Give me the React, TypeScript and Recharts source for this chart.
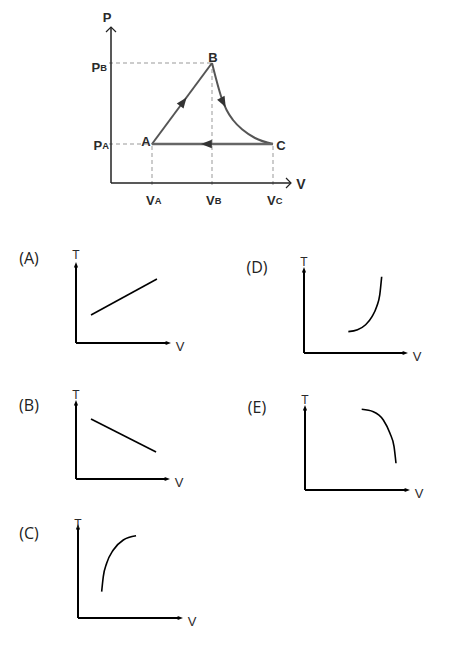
import { ComposedChart, Line, XAxis, YAxis, ReferenceLine, ReferenceDot } from 'recharts'

// P-V cycle (values in arbitrary units)
const VA = 2.05
const VB = 5.05
const VC = 8.1
const PA = 1.95
const PB = 6
const V_MAX = 9
const P_MAX = 7.8

const lineAB = [{ v: VA, p: PA }, { v: VB, p: PB }]
const curveBC = [
  { v: VB, p: PB }, { v: 5.29, p: 5.07 }, { v: 5.53, p: 4.25 }, { v: 5.78, p: 3.65 },
  { v: 6.1, p: 3.15 }, { v: 6.6, p: 2.65 }, { v: 7.2, p: 2.25 }, { v: VC, p: PA },
]
const lineCA = [{ v: VC, p: PA }, { v: VA, p: PA }]
const vTicks = [{ v: VA, sub: 'A' }, { v: VB, sub: 'B' }, { v: VC, sub: 'C' }]
const pTicks = [{ p: PA, sub: 'A', dx: -2, dy: 1 }, { p: PB, sub: 'B', dx: -4, dy: 4 }]
const points = [
  { name: 'A', v: VA, p: PA, dx: -6, dy: -3 },
  { name: 'B', v: VB, p: PB, dx: 1, dy: -6 },
  { name: 'C', v: VC, p: PA, dx: 8, dy: 1 },
]
// direction arrows on the cycle: position + screen angle
const flowArrows = [
  { v: 3.6, p: 4.04, angle: -53.5 },
  { v: 5.6, p: 4.05, angle: 63 },
  { v: 4.8, p: PA, angle: 180 },
]

// answer choices, T vs V on 0..10 axes
const choiceA = [{ v: 1.63, t: 3.59 }, { v: 8.8, t: 8.2 }]
const choiceB = [{ v: 1.65, t: 7.9 }, { v: 8.8, t: 3.55 }]
const choiceC = [
  { v: 2.32, t: 2.89 }, { v: 2.48, t: 4.54 }, { v: 2.81, t: 6.01 },
  { v: 3.46, t: 7.47 }, { v: 4.44, t: 8.57 }, { v: 5.69, t: 9.04 },
]
const choiceD = [
  { v: 4.39, t: 2.57 }, { v: 5.3, t: 2.8 }, { v: 6.1, t: 3.4 }, { v: 6.75, t: 4.4 },
  { v: 7.2, t: 5.6 }, { v: 7.5, t: 7.0 }, { v: 7.69, t: 9.19 },
]
const choiceE = [
  { v: 5.56, t: 9.84 }, { v: 6.7, t: 9.55 }, { v: 7.68, t: 8.54 },
  { v: 8.33, t: 6.91 }, { v: 8.73, t: 5.28 }, { v: 8.92, t: 3.26 },
]

const FONT = '"Liberation Sans", Arial, sans-serif'
const LABEL_FONT = '"Open Sans", "Liberation Sans", sans-serif'

const textShape = (main: string, sub: string | null, dx: number, dy: number, size = 12,
  anchor = 'middle', weight: number | string = 'normal') =>
  (props: any) => (
    <text x={props.cx + dx} y={props.cy + dy} textAnchor={anchor} dominantBaseline="central"
      fontFamily={FONT} fontSize={size} fontWeight={weight} fill="#2a2a2a">
      {main}
      {sub && <tspan fontSize={size * 0.72} dy={1}>{sub}</tspan>}
    </text>
  )

const triangle = (angle: number, size: number, fill: string) => (props: any) => (
  <polygon
    points={`${size},0 ${-size * 0.8},${-size * 0.7} ${-size * 0.8},${size * 0.7}`}
    transform={`translate(${props.cx},${props.cy}) rotate(${angle})`}
    fill={fill}
  />
)

const chevron = (angle: number) => (props: any) => (
  <polyline points="-5,-5 0,0 -5,5" fill="none" stroke="#222" strokeWidth={1.2}
    transform={`translate(${props.cx},${props.cy}) rotate(${angle})`} />
)

function PVDiagram() {
  return (
    <div style={{ position: 'absolute', left: 0, top: 0 }}>
      <ComposedChart width={451} height={230} margin={{ top: 27, left: 111, right: 160, bottom: 47 }}>
        <XAxis type="number" dataKey="v" domain={[0, V_MAX]} hide allowDataOverflow />
        <YAxis type="number" dataKey="p" domain={[0, P_MAX]} hide allowDataOverflow />
        {/* guide lines */}
        <ReferenceLine segment={[{ x: -0.1, y: PB }, { x: VB, y: PB }]} stroke="#999" strokeDasharray="4 3" ifOverflow="visible" />
        <ReferenceLine segment={[{ x: -0.1, y: PA }, { x: VA, y: PA }]} stroke="#999" strokeDasharray="4 3" ifOverflow="visible" />
        <ReferenceLine segment={[{ x: VA, y: -0.1 }, { x: VA, y: PA }]} stroke="#999" strokeDasharray="4 3" ifOverflow="visible" />
        <ReferenceLine segment={[{ x: VB, y: -0.1 }, { x: VB, y: PB }]} stroke="#999" strokeDasharray="4 3" ifOverflow="visible" />
        <ReferenceLine segment={[{ x: VC, y: -0.1 }, { x: VC, y: PA }]} stroke="#999" strokeDasharray="4 3" ifOverflow="visible" />
        {/* axes */}
        <ReferenceLine segment={[{ x: 0, y: 0 }, { x: V_MAX, y: 0 }]} stroke="#222" strokeWidth={1.5} ifOverflow="visible" />
        <ReferenceLine segment={[{ x: 0, y: 0 }, { x: 0, y: P_MAX }]} stroke="#222" strokeWidth={1.5} ifOverflow="visible" />
        <ReferenceDot x={V_MAX} y={0} r={0} ifOverflow="visible" shape={chevron(0)} />
        <ReferenceDot x={0} y={P_MAX} r={0} ifOverflow="visible" shape={chevron(-90)} />
        <ReferenceDot x={V_MAX} y={0} r={0} ifOverflow="visible" shape={textShape('V', null, 10, 1, 14, 'middle', 'bold')} />
        <ReferenceDot x={0} y={P_MAX} r={0} ifOverflow="visible" shape={textShape('P', null, -4, -10, 13, 'middle', 'bold')} />
        {/* cycle */}
        <Line data={lineAB} dataKey="p" type="linear" stroke="#555" strokeWidth={2} dot={false} activeDot={false} isAnimationActive={false} />
        <Line data={curveBC} dataKey="p" type="monotone" stroke="#555" strokeWidth={2} dot={false} activeDot={false} isAnimationActive={false} />
        <Line data={lineCA} dataKey="p" type="linear" stroke="#666" strokeWidth={2.5} dot={false} activeDot={false} isAnimationActive={false} />
        {flowArrows.map((a, i) => (
          <ReferenceDot key={`f${i}`} x={a.v} y={a.p} r={0} ifOverflow="visible" shape={triangle(a.angle, 6, '#333')} />
        ))}
        {points.map(pt => (
          <ReferenceDot key={pt.name} x={pt.v} y={pt.p} r={0} ifOverflow="visible"
            shape={textShape(pt.name, null, pt.dx, pt.dy, 13, 'middle', 'bold')} />
        ))}
        {vTicks.map(t => (
          <ReferenceDot key={`v${t.sub}`} x={t.v} y={0} r={0} ifOverflow="visible"
            shape={textShape('V', t.sub, -6, 17, 13, 'start', 'bold')} />
        ))}
        {pTicks.map(t => (
          <ReferenceDot key={`p${t.sub}`} x={0} y={t.p} r={0} ifOverflow="visible"
            shape={textShape('P', t.sub, t.dx, t.dy, 13, 'end', 'bold')} />
        ))}
      </ComposedChart>
    </div>
  )
}

interface PanelProps {
  label: string
  data: { v: number; t: number }[]
  curved?: boolean
  ox: number
  oy: number
  w: number
  h: number
  lx: number
  ly: number
  tDy: number
}

function Panel({ label, data, curved, ox, oy, w, h, lx, ly, tDy }: PanelProps) {
  return (
    <>
      <div style={{
        position: 'absolute', left: lx, top: ly, transform: 'translate(-50%, -50%)',
        fontFamily: LABEL_FONT, fontSize: 16, color: '#222', lineHeight: 1,
      }}>{label}</div>
      <div style={{ position: 'absolute', left: ox - 40, top: oy - h - 25 }}>
        <ComposedChart width={w + 70} height={h + 45} margin={{ top: 25, left: 40, right: 30, bottom: 20 }}>
          <XAxis type="number" dataKey="v" domain={[0, 10]} hide allowDataOverflow />
          <YAxis type="number" dataKey="t" domain={[0, 10]} hide allowDataOverflow />
          <ReferenceLine segment={[{ x: 0, y: 0 }, { x: 10, y: 0 }]} stroke="#000" strokeWidth={2} ifOverflow="visible" />
          <ReferenceLine segment={[{ x: 0, y: 0 }, { x: 0, y: 10 }]} stroke="#000" strokeWidth={2} ifOverflow="visible" />
          <ReferenceDot x={10} y={0} r={0} ifOverflow="visible" shape={triangle(0, 3, '#000')} />
          <ReferenceDot x={0} y={10} r={0} ifOverflow="visible" shape={triangle(-90, 3, '#000')} />
          <ReferenceDot x={10} y={0} r={0} ifOverflow="visible" shape={textShape('V', null, 12, 3, 13)} />
          <ReferenceDot x={0} y={10} r={0} ifOverflow="visible" shape={textShape('T', null, 0, tDy, 12)} />
          <Line data={data} dataKey="t" type={curved ? 'monotone' : 'linear'} stroke="#000" strokeWidth={1.6}
            dot={false} activeDot={false} isAnimationActive={false} />
        </ComposedChart>
      </div>
    </>
  )
}

export default function App() {
  return (
    <div style={{ position: 'absolute', left: 0, top: 0, width: 451, height: 671, background: '#fff', overflow: 'hidden' }}>
      <PVDiagram />
      <Panel label="(A)" data={choiceA} ox={76} oy={343} w={92} h={78} lx={29} ly={258} tDy={-10} />
      <Panel label="(D)" data={choiceD} curved ox={304} oy={353} w={101} h={83} lx={257} ly={267} tDy={-8} />
      <Panel label="(B)" data={choiceB} ox={76} oy={479} w={91} h={76} lx={29} ly={405} tDy={-8} />
      <Panel label="(E)" data={choiceE} curved ox={305} oy={490} w={102} h={82} lx={257} ly={407} tDy={-8} />
      <Panel label="(C)" data={choiceC} curved ox={78} oy={618} w={102} h={91} lx={29} ly={533} tDy={-3} />
    </div>
  )
}
